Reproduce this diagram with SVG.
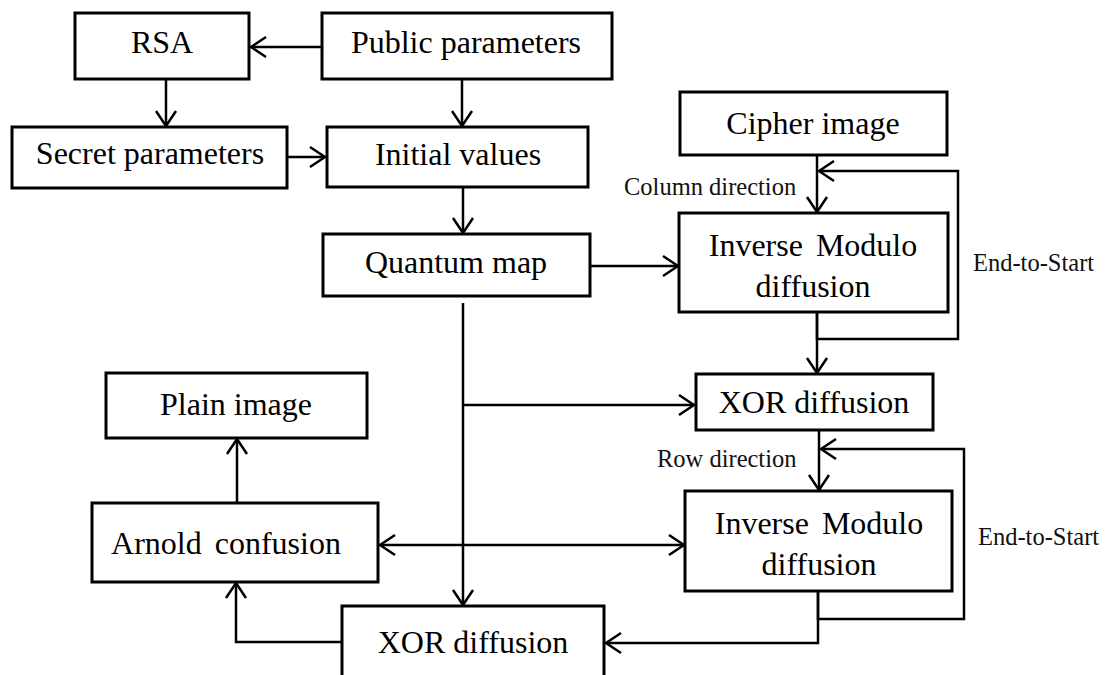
<svg xmlns="http://www.w3.org/2000/svg" width="1105" height="675" viewBox="0 0 1105 675">
  <style>
    .box { fill: #ffffff; stroke: #000000; stroke-width: 3; }
    .lbl { font-family: "Liberation Serif", "Times New Roman", serif; font-size: 32px; fill: #000000; text-anchor: middle; }
    .wide { word-spacing: 5px; }
    .note { font-family: "Liberation Serif", "Times New Roman", serif; font-size: 24.5px; fill: #111111; }
    .wire { fill: none; stroke: #000000; stroke-width: 2.5; stroke-linejoin: miter; }
    .arr { marker-end: url(#chev); }
  </style>
  <defs>
    <marker id="chev" markerUnits="userSpaceOnUse" markerWidth="24" markerHeight="24" viewBox="-17 -12 19 24" refX="0" refY="0" orient="auto-start-reverse">
      <path d="M -15 -10 L 0 0 L -15 10" fill="none" stroke="#000000" stroke-width="2.5"/>
    </marker>
  </defs>

  <rect width="1105" height="675" fill="#ffffff"/>

  <!-- connectors -->
  <g id="connectors">
    <line class="wire arr" x1="322" y1="47" x2="251" y2="47"/>
    <line class="wire arr" x1="166" y1="79" x2="166" y2="126"/>
    <line class="wire arr" x1="462" y1="79" x2="462" y2="126"/>
    <line class="wire arr" x1="287" y1="157" x2="325" y2="157"/>
    <line class="wire arr" x1="463" y1="187" x2="463" y2="233"/>
    <line class="wire arr" x1="590" y1="266" x2="678" y2="266"/>
    <line class="wire arr" x1="817" y1="155" x2="817" y2="212"/>
    <polyline class="wire arr" points="817,312 817,339 958,339 958,171 819,171"/>
    <line class="wire arr" x1="817" y1="312" x2="817" y2="373"/>
    <line class="wire arr" x1="463" y1="303" x2="463" y2="605"/>
    <line class="wire arr" x1="463" y1="405" x2="694" y2="405"/>
    <line class="wire arr" x1="819" y1="430" x2="819" y2="490"/>
    <polyline class="wire arr" points="818,591 818,619 964,619 964,449 821,449"/>
    <polyline class="wire arr" points="818,591 818,643 606,643"/>
    <line class="wire" x1="380" y1="545" x2="684" y2="545" marker-start="url(#chev)" marker-end="url(#chev)"/>
    <polyline class="wire arr" points="342,642 236,642 236,583"/>
    <line class="wire arr" x1="237" y1="503" x2="237" y2="439"/>
  </g>

  <!-- nodes -->
  <g id="rsa">
    <rect class="box" x="75" y="13" width="174" height="66"/>
    <text class="lbl" x="162" y="53">RSA</text>
  </g>
  <g id="public-parameters">
    <rect class="box" x="322" y="13" width="290" height="66"/>
    <text class="lbl" x="466" y="53">Public parameters</text>
  </g>
  <g id="secret-parameters">
    <rect class="box" x="12" y="127" width="275" height="61"/>
    <text class="lbl" x="150" y="164">Secret parameters</text>
  </g>
  <g id="initial-values">
    <rect class="box" x="327" y="127" width="261" height="60"/>
    <text class="lbl" x="458" y="165">Initial values</text>
  </g>
  <g id="quantum-map">
    <rect class="box" x="323" y="234" width="267" height="62"/>
    <text class="lbl" x="456" y="273">Quantum map</text>
  </g>
  <g id="cipher-image">
    <rect class="box" x="680" y="92" width="267" height="63"/>
    <text class="lbl" x="813" y="134">Cipher image</text>
  </g>
  <g id="inverse-modulo-column">
    <rect class="box" x="679" y="213" width="269" height="99"/>
    <text class="lbl wide" x="813" y="256">Inverse Modulo</text>
    <text class="lbl" x="813" y="297">diffusion</text>
  </g>
  <g id="xor-diffusion-right">
    <rect class="box" x="696" y="374" width="237" height="56"/>
    <text class="lbl" x="814" y="413">XOR diffusion</text>
  </g>
  <g id="plain-image">
    <rect class="box" x="106" y="373" width="261" height="65"/>
    <text class="lbl" x="236" y="415">Plain image</text>
  </g>
  <g id="arnold-confusion">
    <rect class="box" x="92" y="503" width="286" height="79"/>
    <text class="lbl wide" x="226" y="554">Arnold confusion</text>
  </g>
  <g id="inverse-modulo-row">
    <rect class="box" x="685" y="491" width="267" height="100"/>
    <text class="lbl wide" x="819" y="534">Inverse Modulo</text>
    <text class="lbl" x="819" y="575">diffusion</text>
  </g>
  <g id="xor-diffusion-bottom">
    <rect class="box" x="342" y="606" width="262" height="90"/>
    <text class="lbl" x="473" y="653">XOR diffusion</text>
  </g>

  <!-- edge notes -->
  <g id="notes">
    <text class="note" x="624" y="195">Column direction</text>
    <text class="note" x="973" y="271">End-to-Start</text>
    <text class="note" x="657" y="467">Row direction</text>
    <text class="note" x="978" y="545">End-to-Start</text>
  </g>
</svg>
